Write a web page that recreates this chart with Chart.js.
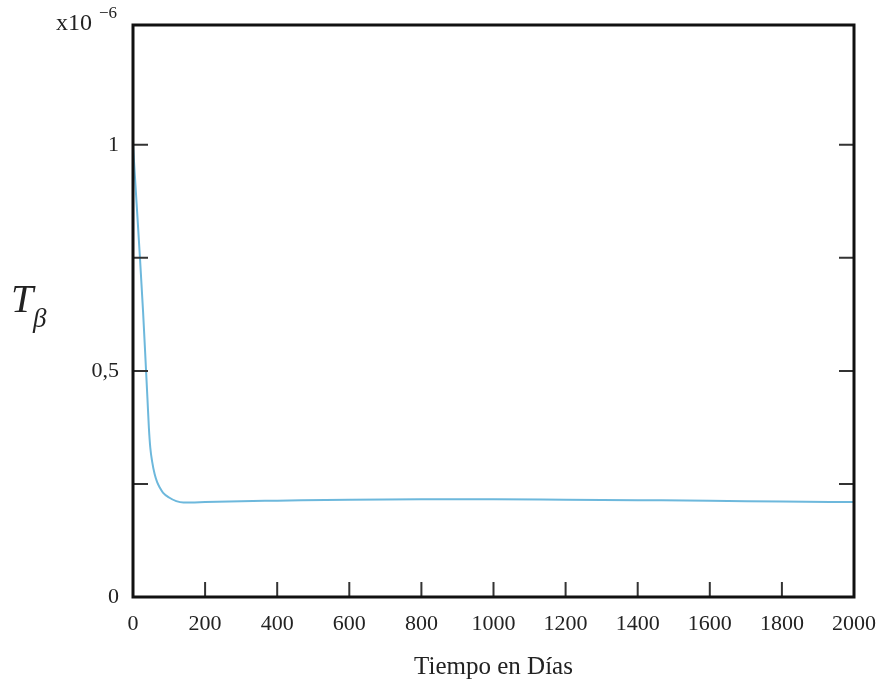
<!DOCTYPE html>
<html>
<head>
<meta charset="utf-8">
<script src="https://cdn.jsdelivr.net/npm/chart.js@4.4.1/dist/chart.umd.min.js"></script>
<style>
  html, body { margin: 0; padding: 0; background: #fff; }
  #wrap { width: 881px; height: 695px; }
</style>
</head>
<body>
<div id="wrap"><canvas id="lineChart" width="881" height="695"></canvas></div>
<script>
// tiempo en dias
const dias = [0, 10, 19, 28, 36, 40, 44, 48, 53, 60, 67, 75, 83, 100, 120, 140, 160, 200, 300, 400, 600, 800, 1000, 1200, 1400, 1600, 1800, 2000];
// T_beta, en unidades de 1e-6
const tBeta = [1.0, 0.87, 0.754, 0.63, 0.504, 0.44, 0.375, 0.33, 0.30, 0.272, 0.254, 0.241, 0.231, 0.22, 0.212, 0.209, 0.209, 0.210, 0.212, 0.213, 0.215, 0.216, 0.216, 0.215, 0.214, 0.213, 0.211, 0.210];
// ticks con etiqueta en el eje y
const yLabels = [0, 0.5, 1];
const xTicks = [200, 400, 600, 800, 1000, 1200, 1400, 1600, 1800];
const yTicks = [0.25, 0.5, 0.75, 1];

const serif = "'Liberation Serif', 'DejaVu Serif', serif";

// marco y ticks hacia dentro
const framePlugin = {
    id: 'frame',
    afterDraw(chart) {
        const { ctx, chartArea: a, scales } = chart;
        ctx.save();
        ctx.strokeStyle = '#333';
        ctx.lineWidth = 2;
        ctx.beginPath();
        xTicks.forEach(v => {
            const px = scales.x.getPixelForValue(v);
            ctx.moveTo(px, a.bottom);
            ctx.lineTo(px, a.bottom - 15);
        });
        yTicks.forEach(v => {
            const py = scales.y.getPixelForValue(v);
            ctx.moveTo(a.left, py);
            ctx.lineTo(a.left + 15, py);
            ctx.moveTo(a.right, py);
            ctx.lineTo(a.right - 15, py);
        });
        ctx.stroke();

        ctx.strokeStyle = '#111';
        ctx.lineWidth = 3;
        ctx.strokeRect(a.left, a.top, a.right - a.left, a.bottom - a.top);

        // multiplicador x10^-6
        ctx.fillStyle = '#222';
        ctx.textBaseline = 'alphabetic';
        ctx.textAlign = 'left';
        ctx.font = '24px ' + serif;
        ctx.fillText('x10', 56, 30);
        ctx.font = '17px ' + serif;
        ctx.fillText('\u22126', 99, 18);

        // T_beta
        ctx.font = 'italic 40px ' + serif;
        ctx.fillText('T', 11, 312);
        ctx.font = 'italic 27px ' + serif;
        ctx.fillText('\u03B2', 33, 327);
        ctx.restore();
    }
};

const myChart = new Chart(document.getElementById('lineChart'), {
    type: 'line',
    data: {
        datasets: [{
            data: dias.map((d, i) => ({ x: d, y: tBeta[i] })),
            borderColor: '#6db8dc',
            borderWidth: 2,
            pointRadius: 0,
            fill: false,
            cubicInterpolationMode: 'monotone',
        }],
    },
    options: {
        responsive: false,
        animation: false,
        layout: { padding: { top: 25, right: 27, left: 0, bottom: 0 } },
        plugins: { legend: { display: false }, tooltip: { enabled: false } },
        scales: {
            x: {
                type: 'linear',
                min: 0,
                max: 2000,
                grid: { display: false, drawTicks: false },
                border: { display: false },
                ticks: {
                    stepSize: 200,
                    padding: 14,
                    color: '#222',
                    font: { family: serif, size: 22 },
                    maxRotation: 0,
                    callback: v => String(v),
                },
                title: {
                    display: true,
                    text: 'Tiempo en Días',
                    color: '#222',
                    font: { family: serif, size: 25 },
                    padding: { top: 0, bottom: 13 },
                },
                afterFit(scale) {
                    scale.height = 98;
                    scale.paddingLeft = 0;
                    scale.paddingRight = 0;
                },
            },
            y: {
                min: 0,
                max: 1.265,
                grid: { display: false, drawTicks: false },
                border: { display: false },
                ticks: {
                    stepSize: 0.25,
                    padding: 14,
                    color: '#222',
                    font: { family: serif, size: 22 },
                    callback: v => yLabels.some(l => Math.abs(l - v) < 1e-9) ? String(v).replace('.', ',') : '',
                },
                afterFit(scale) {
                    scale.width = 133;
                    scale.paddingTop = 0;
                    scale.paddingBottom = 0;
                },
            },
        },
    },
    plugins: [framePlugin],
});
</script>
</body>
</html>
